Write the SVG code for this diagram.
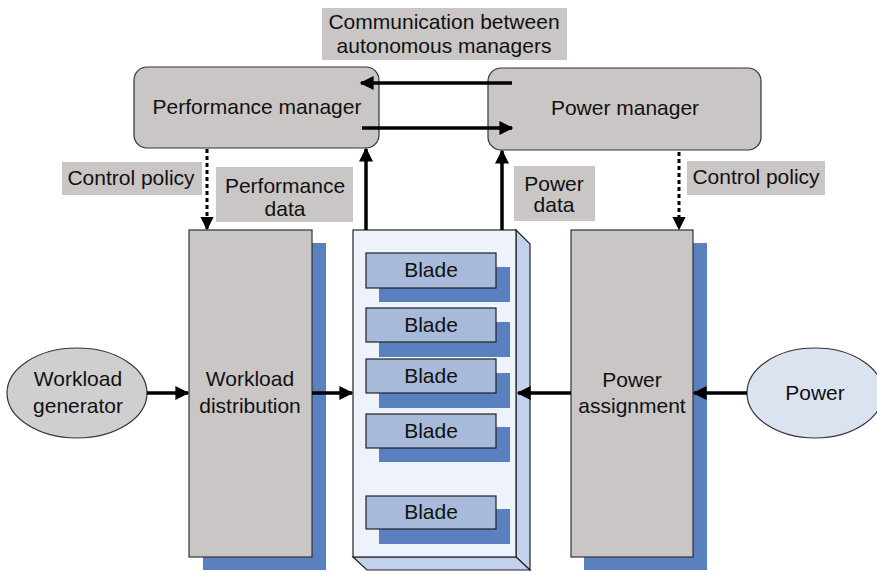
<svg xmlns="http://www.w3.org/2000/svg" width="877" height="571" viewBox="0 0 877 571">
<style>
text{font-family:"Liberation Sans",Arial,sans-serif;font-size:21px;fill:#111;text-anchor:middle}
.box{fill:#c9c6c5;stroke:#333;stroke-width:1.2}
.lbl{fill:#c9c6c5}
.shadow{fill:#5b80c0}
.blade{fill:#a7bad9;stroke:#222;stroke-width:1.2}
.ln{stroke:#000;stroke-width:3.5;fill:none}
.dash{stroke:#000;stroke-width:3;fill:none;stroke-dasharray:4 3}
</style>
<defs>
<marker id="ah" viewBox="0 0 10 10" refX="9" refY="5" markerWidth="4.4" markerHeight="4" orient="auto" markerUnits="strokeWidth">
<path d="M0,0 L10,5 L0,10 Z" fill="#000"/>
</marker>
<marker id="ahd" viewBox="0 0 10 10" refX="9" refY="5" markerWidth="4.8" markerHeight="4.4" orient="auto" markerUnits="strokeWidth">
<path d="M0,0 L10,5 L0,10 Z" fill="#000"/>
</marker>
</defs>

<g id="label-communication">
<rect class="lbl" x="322" y="8" width="245" height="52"/>
<text x="444" y="29">Communication between</text>
<text x="444" y="53">autonomous managers</text>
</g>

<g id="performance-manager">
<rect class="box" x="134" y="67" width="245" height="81" rx="13"/>
<text x="257" y="114">Performance manager</text>
</g>

<g id="power-manager">
<rect class="box" x="488" y="68" width="273" height="82" rx="13"/>
<text x="625" y="115">Power manager</text>
</g>

<g id="label-control-policy-left">
<rect class="lbl" x="62" y="162" width="140" height="33"/>
<text x="131" y="185">Control policy</text>
</g>
<g id="label-performance-data">
<rect class="lbl" x="216" y="167" width="137" height="55"/>
<text x="285" y="193">Performance</text>
<text x="285" y="216">data</text>
</g>
<g id="label-power-data">
<rect class="lbl" x="514" y="166" width="81" height="55"/>
<text x="554" y="191">Power</text>
<text x="554" y="212">data</text>
</g>
<g id="label-control-policy-right">
<rect class="lbl" x="687" y="161" width="138" height="34"/>
<text x="756" y="184">Control policy</text>
</g>

<g id="workload-distribution">
<rect class="shadow" x="203" y="243" width="123" height="327"/>
<rect class="box" x="189" y="230" width="123" height="327"/>
<text x="250" y="386">Workload</text>
<text x="250" y="413">distribution</text>
</g>

<g id="power-assignment">
<rect class="shadow" x="584" y="243" width="123" height="327"/>
<rect class="box" x="571" y="230" width="122" height="327"/>
<text x="632" y="387">Power</text>
<text x="632" y="413">assignment</text>
</g>

<g id="rack">
<polygon points="516,230 530,244 530,570 516,557" fill="#c3d2ec" stroke="#222" stroke-width="1.2"/>
<polygon points="353,557 516,557 530,570 367,570" fill="#c3d2ec" stroke="#222" stroke-width="1.2"/>
<rect x="353" y="230" width="163" height="327" fill="#eef3fb" stroke="#222" stroke-width="1.2"/>
</g>

<g id="blade-1">
<rect class="shadow" x="379" y="267" width="131" height="35"/>
<rect class="blade" x="366" y="253" width="130" height="35"/>
<text x="431" y="277">Blade</text>
</g>
<g id="blade-2">
<rect class="shadow" x="379" y="322" width="131" height="35"/>
<rect class="blade" x="366" y="308" width="130" height="34"/>
<text x="431" y="332">Blade</text>
</g>
<g id="blade-3">
<rect class="shadow" x="379" y="373" width="131" height="35"/>
<rect class="blade" x="366" y="359" width="130" height="34"/>
<text x="431" y="383">Blade</text>
</g>
<g id="blade-4">
<rect class="shadow" x="379" y="427" width="131" height="35"/>
<rect class="blade" x="366" y="414" width="130" height="34"/>
<text x="431" y="438">Blade</text>
</g>
<g id="blade-5">
<rect class="shadow" x="379" y="509" width="131" height="35"/>
<rect class="blade" x="366" y="496" width="130" height="33"/>
<text x="431" y="519">Blade</text>
</g>

<g id="workload-generator">
<ellipse cx="77" cy="393" rx="70" ry="45" fill="#cfcfcf" stroke="#333" stroke-width="1.2"/>
<text x="78" y="386">Workload</text>
<text x="78" y="413">generator</text>
</g>

<g id="power">
<ellipse cx="815" cy="393" rx="68" ry="45" fill="#dbe3f0" stroke="#333" stroke-width="1.2"/>
<text x="815" y="400">Power</text>
</g>

<g id="connectors">
<line class="ln" x1="512" y1="83" x2="361" y2="83" marker-end="url(#ah)"/>
<line class="ln" x1="362" y1="128" x2="512" y2="128" marker-end="url(#ah)"/>
<line class="ln" x1="366" y1="230" x2="366" y2="149" marker-end="url(#ah)"/>
<line class="ln" x1="502" y1="230" x2="502" y2="151" marker-end="url(#ah)"/>
<line class="dash" x1="207" y1="149" x2="207" y2="229" marker-end="url(#ahd)"/>
<line class="dash" x1="679" y1="152" x2="679" y2="229" marker-end="url(#ahd)"/>
<line class="ln" x1="147" y1="393" x2="188" y2="393" marker-end="url(#ah)"/>
<line class="ln" x1="312" y1="393" x2="352" y2="393" marker-end="url(#ah)"/>
<line class="ln" x1="571" y1="393" x2="518" y2="393" marker-end="url(#ah)"/>
<line class="ln" x1="747" y1="393" x2="694" y2="393" marker-end="url(#ah)"/>
</g>
</svg>
